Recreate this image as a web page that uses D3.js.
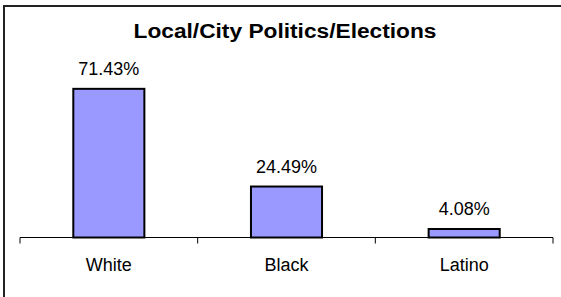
<!DOCTYPE html>
<html>
<head>
<meta charset="utf-8">
<script src="https://cdn.jsdelivr.net/npm/d3@7"></script>
<style>
    body { margin: 0; background: #fff; }
    text { font-family: Arial, "Liberation Sans", sans-serif; }
</style>
</head>
<body>
<svg id="chart"></svg>
<script>
const categories = ["White", "Black", "Latino"];
const values = [71.43, 24.49, 4.08];
const valueLabels = ["71.43%", "24.49%", "4.08%"];
const title = "Local/City Politics/Elections";

const svgSize = { width: 561, height: 297 };
const plot = { left: 20, right: 553, top: 71, bottom: 237.5 };

const svg = d3.select("#chart")
    .attr("width", svgSize.width)
    .attr("height", svgSize.height);

// chart area border (only top and left edges are in frame)
svg.append("rect")
    .attr("x", 4)
    .attr("y", 6)
    .attr("width", 620)
    .attr("height", 340)
    .attr("fill", "none")
    .attr("stroke", "#222")
    .attr("stroke-width", 2);

svg.append("text")
    .attr("x", 285)
    .attr("y", 38)
    .attr("text-anchor", "middle")
    .attr("font-size", 20)
    .attr("font-weight", "bold")
    .attr("textLength", 303)
    .attr("lengthAdjust", "spacingAndGlyphs")
    .text(title);

const x = d3.scaleBand()
    .domain(categories)
    .range([plot.left, plot.right])
    .paddingInner(0.6)
    .paddingOuter(0.3);

const y = d3.scaleLinear()
    .domain([0, 80])
    .range([plot.bottom, plot.top]);

const data = categories.map((c, i) => ({ name: c, value: values[i], label: valueLabels[i] }));

// bars
svg.append("g")
    .selectAll("rect")
    .data(data)
    .enter()
    .append("rect")
    .attr("x", d => x(d.name))
    .attr("y", d => y(d.value))
    .attr("width", x.bandwidth())
    .attr("height", d => y(0) - y(d.value))
    .attr("fill", "#9999FF")
    .attr("stroke", "#000")
    .attr("stroke-width", 2);

// value labels
svg.append("g")
    .selectAll("text")
    .data(data)
    .enter()
    .append("text")
    .attr("x", d => x(d.name) + x.bandwidth() / 2)
    .attr("y", d => y(d.value) - 14)
    .attr("text-anchor", "middle")
    .attr("font-size", 18)
    .attr("fill", "#000")
    .text(d => d.label);

// category axis, ticks sit between categories
const step = x.step();
const tickPos = d3.range(categories.length + 1).map(i => plot.left + i * step);
const axis = svg.append("g");
axis.append("line")
    .attr("x1", plot.left)
    .attr("x2", plot.right)
    .attr("y1", plot.bottom)
    .attr("y2", plot.bottom)
    .attr("stroke", "#000")
    .attr("stroke-width", 1);
axis.selectAll(".tick")
    .data(tickPos)
    .enter()
    .append("line")
    .attr("class", "tick")
    .attr("x1", d => d)
    .attr("x2", d => d)
    .attr("y1", plot.bottom)
    .attr("y2", plot.bottom + 6)
    .attr("stroke", "#000");

svg.append("g")
    .selectAll("text")
    .data(categories)
    .enter()
    .append("text")
    .attr("x", d => x(d) + x.bandwidth() / 2)
    .attr("y", 271)
    .attr("text-anchor", "middle")
    .attr("font-size", 18)
    .attr("fill", "#000")
    .text(d => d);
</script>
</body>
</html>
